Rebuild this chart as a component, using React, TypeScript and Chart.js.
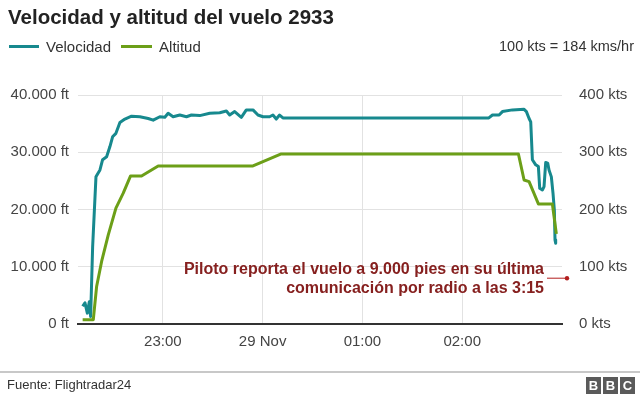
import React, { useEffect, useRef } from "react";
import { Chart, registerables } from "chart.js";

Chart.register(...registerables);

// minutes after 22:00
const speedTimes = [11.8, 13.2, 14.6, 15.8, 16.6, 17.8, 19.8, 22.2, 23.8, 26.2, 28.2, 29.8, 31.8, 34.2, 37.2, 41.2, 46.2, 51.2, 54.2, 58.2, 61.2, 63.2, 66.2, 70.2, 74.2, 77.2, 82.2, 88.2, 94.2, 98.2, 100.2, 103.2, 107.2, 110.2, 114.2, 117.2, 120.2, 124.2, 126.2, 128.2, 130.2, 132.2, 256.0, 258.2, 262.2, 264.2, 270.2, 277.2, 278.6, 280.2, 281.2, 282.2, 284.2, 285.8, 286.6, 288.2, 289.2, 290.2, 291.4, 292.2, 293.6, 294.6, 295.4, 295.8, 296.2];
const speedKts = [31, 37, 19, 39, 13, 135, 257, 269, 287, 292, 310, 327, 333, 352, 358, 363, 362, 359, 356, 362, 361, 368, 362, 365, 362, 365, 364, 368, 369, 372, 365, 371, 361, 374, 374, 365, 362, 362, 365, 358, 365, 360, 360, 365, 365, 371, 374, 375, 371, 359, 353, 287, 278, 275, 237, 234, 240, 282, 281, 269, 257, 228, 199, 147, 141];

const altTimes = [11.8, 18.2, 20.2, 23.2, 27.2, 31.8, 36.2, 40.6, 47.2, 57.2, 114.2, 131.2, 273.8, 277.2, 280.2, 285.8, 294.2, 296.6];
const altFeet = [750, 750, 6560, 10920, 15570, 20230, 22850, 25860, 25860, 27610, 27610, 29700, 29700, 25150, 24870, 20980, 20980, 15750];

const xTickMinutes = [60, 120, 180, 240];
const xTickLabels = ["23:00", "29 Nov", "01:00", "02:00"];

const annotationLines = ["Piloto reporta el vuelo a 9.000 pies en su última", "comunicación por radio a las 3:15"];
const annotationFeet = 8000;

const TEAL = "#17898e";
const GREEN = "#6c9f18";
const FONT = "'Liberation Sans', Arial, Helvetica, sans-serif";

const fmtFt = (v: number) => String(v).replace(/\B(?=(\d{3})+(?!\d))/g, ".") + " ft";

export default function App() {
  const ref = useRef<HTMLCanvasElement | null>(null);

  useEffect(() => {
    if (!ref.current) return;
    const annot = {
      id: "annot",
      afterDatasetsDraw(chart: any) {
        const { ctx, chartArea, scales } = chart;
        const y = scales.y.getPixelForValue(annotationFeet);
        ctx.save();
        ctx.fillStyle = "#86201f";
        ctx.font = `bold 16px ${FONT}`;
        ctx.textAlign = "right";
        ctx.textBaseline = "middle";
        const tx = chartArea.right - 18;
        ctx.fillText(annotationLines[0], tx, y - 9);
        ctx.fillText(annotationLines[1], tx, y + 10);
        ctx.strokeStyle = "#b21e1e";
        ctx.lineWidth = 1;
        ctx.beginPath();
        ctx.moveTo(chartArea.right - 15, y);
        ctx.lineTo(chartArea.right + 5, y);
        ctx.stroke();
        ctx.fillStyle = "#b21e1e";
        ctx.beginPath();
        ctx.arc(chartArea.right + 5, y, 2.2, 0, Math.PI * 2);
        ctx.fill();
        ctx.restore();
      },
    };

    const chart = new Chart(ref.current, {
      type: "line",
      data: {
        datasets: [
          {
            label: "Velocidad",
            data: speedTimes.map((t, i) => ({ x: t, y: speedKts[i] })),
            borderColor: TEAL,
            backgroundColor: TEAL,
            borderWidth: 3,
            pointRadius: 0,
            tension: 0,
            yAxisID: "y2",
            order: 2,
            borderJoinStyle: "round",
          },
          {
            label: "Altitud",
            data: altTimes.map((t, i) => ({ x: t, y: altFeet[i] })),
            borderColor: GREEN,
            backgroundColor: GREEN,
            borderWidth: 3,
            pointRadius: 0,
            tension: 0,
            yAxisID: "y",
            order: 1,
            borderJoinStyle: "round",
          },
        ],
      },
      options: {
        animation: false,
        responsive: false,
        maintainAspectRatio: false,
        layout: { padding: { top: 95, left: 0, right: 0, bottom: 0 } },
        plugins: { legend: { display: false }, tooltip: { enabled: false } },
        scales: {
          x: {
            type: "linear",
            min: 9,
            max: 300,
            afterBuildTicks: (s: any) => {
              s.ticks = xTickMinutes.map((v) => ({ value: v }));
            },
            afterFit: (s: any) => {
              s.height = 72;
            },
            ticks: {
              callback: (v: any) => {
                const i = xTickMinutes.indexOf(Number(v));
                return i >= 0 ? xTickLabels[i] : "";
              },
              color: "#444",
              font: { family: FONT, size: 15 },
              padding: 9,
              maxRotation: 0,
            },
            grid: { color: "#e2e2e2", lineWidth: 1, drawTicks: false },
            border: { display: true, color: "#333", width: 2 },
          },
          y: {
            type: "linear",
            position: "left",
            min: 0,
            max: 40000,
            afterBuildTicks: (s: any) => {
              s.ticks = [0, 10000, 20000, 30000, 40000].map((v) => ({ value: v }));
            },
            afterFit: (s: any) => {
              s.width = 78;
            },
            ticks: {
              callback: (v: any) => fmtFt(Number(v)),
              color: "#444",
              font: { family: FONT, size: 15 },
              padding: 9,
            },
            grid: { color: "#e2e2e2", lineWidth: 1, drawTicks: false },
            border: { display: false },
          },
          y2: {
            type: "linear",
            position: "right",
            min: 0,
            max: 400,
            afterBuildTicks: (s: any) => {
              s.ticks = [0, 100, 200, 300, 400].map((v) => ({ value: v }));
            },
            afterFit: (s: any) => {
              s.width = 78;
            },
            ticks: {
              callback: (v: any) => `${v} kts`,
              color: "#444",
              font: { family: FONT, size: 15 },
              padding: 17,
            },
            grid: { display: false, drawTicks: false },
            border: { display: false },
          },
        },
      },
      plugins: [annot],
    } as any);
    return () => chart.destroy();
  }, []);

  const box: React.CSSProperties = {
    position: "absolute",
    top: 0,
    left: 0,
    width: 640,
    height: 396,
    background: "#fff",
    fontFamily: FONT,
    overflow: "hidden",
  };

  return (
    <div style={box}>
      <canvas ref={ref} width={640} height={396} style={{ position: "absolute", left: 0, top: 0, width: 640, height: 396 }} />
      <div style={{ position: "absolute", left: 8, top: 5, fontSize: 20.5, fontWeight: "bold", color: "#222", whiteSpace: "nowrap" }}>
        Velocidad y altitud del vuelo 2933
      </div>
      <div style={{ position: "absolute", left: 9, top: 36, height: 20, fontSize: 15, color: "#333", display: "flex", alignItems: "center", whiteSpace: "nowrap" }}>
        <span style={{ display: "inline-block", width: 30, height: 3, background: TEAL, marginRight: 7 }} />
        <span>Velocidad</span>
        <span style={{ display: "inline-block", width: 31, height: 3, background: GREEN, marginLeft: 10, marginRight: 7 }} />
        <span>Altitud</span>
      </div>
      <div style={{ position: "absolute", right: 6, top: 36, height: 20, lineHeight: "20px", fontSize: 14.5, color: "#333", whiteSpace: "nowrap" }}>
        100 kts = 184 kms/hr
      </div>
      <div style={{ position: "absolute", left: 0, top: 371, width: 640, height: 2, background: "#c8c8c8" }} />
      <div style={{ position: "absolute", left: 7, top: 377, fontSize: 13, color: "#333", whiteSpace: "nowrap" }}>
        Fuente: Flightradar24
      </div>
      <div style={{ position: "absolute", left: 586, top: 377, display: "flex" }}>
        {["B", "B", "C"].map((c, i) => (
          <div key={i} style={{ width: 15, height: 17, marginLeft: i ? 2 : 0, background: "#5a5a5a", color: "#fff", fontWeight: "bold", fontSize: 13, lineHeight: "17px", textAlign: "center" }}>
            {c}
          </div>
        ))}
      </div>
    </div>
  );
}
